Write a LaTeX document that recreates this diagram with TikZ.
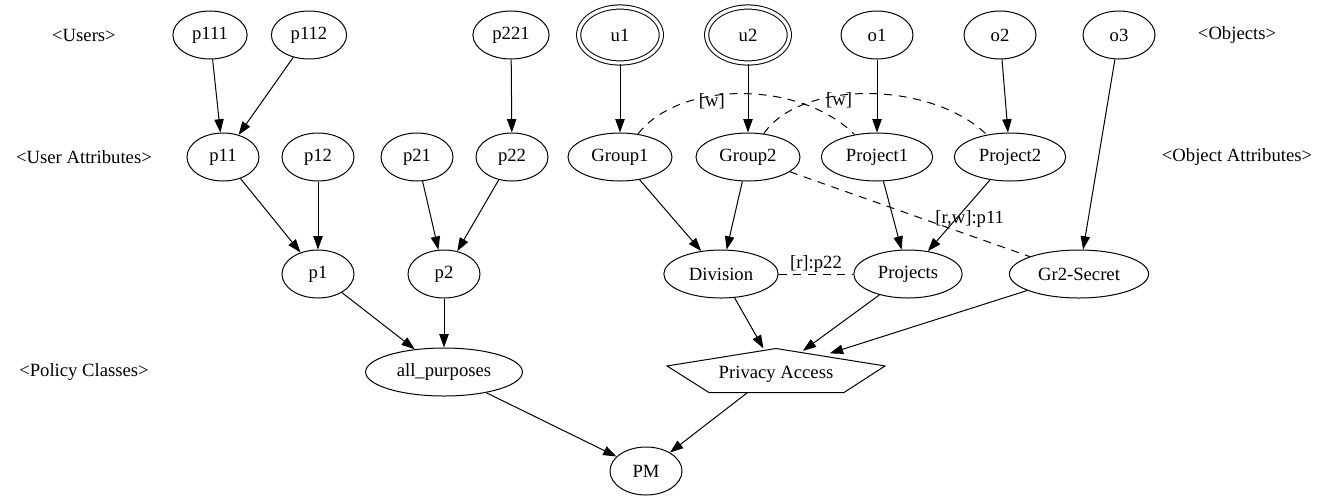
\documentclass[tikz,border=0pt]{standalone}
\usepackage{fontspec}
\setmainfont{Liberation Serif}
\usetikzlibrary{arrows.meta, positioning, shapes.geometric}

\begin{document}
\begin{tikzpicture}[x=0.75pt, y=-0.75pt, ->, >={Triangle[length=10pt,width=7pt]}, line width=0.75pt, font=\fontsize{14}{16}\selectfont]
    \tikzstyle{attr}=[ellipse, draw, minimum width=54pt, minimum height=36pt, inner xsep=6.2pt]
    \tikzstyle{user}=[attr, double, double distance=2.4pt, minimum width=62pt, minimum height=42pt]
    \tikzstyle{rowlabel}=[inner sep=0pt]
    \tikzstyle{assoc}=[-, dash pattern=on 6pt off 5pt]
    \useasboundingbox (0,0) rectangle (1328,501);

    % Row labels
    \node[rowlabel] (users) at (84,35) {<Users>};
    \node[rowlabel] (uattrs) at (84,157) {<User Attributes>};
    \node[rowlabel] (pclasses) at (84,372) {<Policy Classes>};
    \node[rowlabel] (objects) at (1237,35) {<Objects>};
    \node[rowlabel] (oattrs) at (1237,157) {<Object Attributes>};

    % Draw the users and objects
    \foreach \name / \x in {p111/210, p112/309, p221/511, o1/877, o2/1000, o3/1119}
        \node[attr] (\name) at (\x,35) {\name};
    \node[user] (u1) at (620,35) {u1};
    \node[user] (u2) at (748,35) {u2};

    % Draw the attributes
    \foreach \name / \x in {p11/223, p12/318, p21/417, p22/512, Group1/620, Group2/748, Project1/877, Project2/1010}
        \node[attr] (\name) at (\x,157) {\name};
    \foreach \name / \x in {p1/318, p2/444, Division/721, Projects/908, Gr2-Secret/1079}
        \node[attr] (\name) at (\x,274) {\name};

    % Policy classes
    \node[attr] (all) at (444,372) {all\_purposes};
    \node[minimum width=162.75pt, minimum height=32.25pt, inner sep=0pt, text height=12pt, text depth=0pt] (pa) at (776,370.5) {Privacy Access};
    \draw[-] (pa.north) -- ([yshift=3.4pt]pa.west) -- ([xshift=31.5pt]pa.south west)
        -- ([xshift=-30.75pt]pa.south east) -- ([yshift=3.4pt]pa.east) -- cycle;
    \node[attr] (PM) at (646,471) {PM};

    % Assignments
    \foreach \source / \dest in {p111/p11, p112/p11, p221/p22, u1/Group1, u2/Group2, o1/Project1,
        o2/Project2, o3/Gr2-Secret, p11/p1, p12/p1, p21/p2, p22/p2, Group1/Division, Group2/Division,
        Project1/Projects, Project2/Projects, p1/all, p2/all, Division/pa, all/PM, pa/PM}
        \draw (\source) -- (\dest);
    \draw[shorten >=-3pt] (Projects) -- (pa);
    \draw[shorten >=-12pt] (Gr2-Secret) -- (pa);

    % Associations
    \draw[assoc] (Group1) .. controls (680,80) and (800,80) .. node[pos=0.38, inner sep=0pt, yshift=-4pt] {[w]} (Project1);
    \draw[assoc] (Group2) .. controls (800,80) and (930,80) .. node[pos=0.39, inner sep=0pt, yshift=-4pt] {[w]} (Project2);
    \draw[assoc] (Group2) -- node[pos=0.75, above=2pt] {[r,w]:p11} (Gr2-Secret);
    \draw[assoc] (Division) -- node[above, inner sep=1pt] {[r]:p22} (Projects);
\end{tikzpicture}
\end{document}
